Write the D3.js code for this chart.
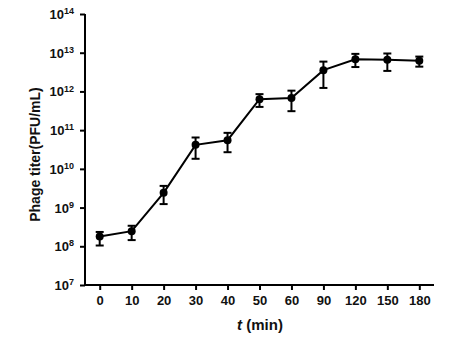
<!DOCTYPE html>
<html><head><meta charset="utf-8">
<script src="https://cdn.jsdelivr.net/npm/d3@7"></script>
<style>
html,body{margin:0;padding:0;background:#fff;}
svg{display:block;font-family:Arial,"Liberation Sans",sans-serif;}
</style></head>
<body>
<svg id="c" width="451" height="340"></svg>
<script>
const categories = ["0","10","20","30","40","50","60","90","120","150","180"];
const logTiter = [8.25, 8.39, 9.38, 10.62, 10.74, 11.80, 11.83, 12.55, 12.83, 12.82, 12.79];
const logErrHigh = [8.37, 8.53, 9.56, 10.81, 10.93, 11.93, 12.02, 12.77, 12.97, 12.98, 12.90];
const logErrLow = [8.02, 8.16, 9.09, 10.26, 10.43, 11.60, 11.49, 12.09, 12.63, 12.53, 12.64];
const yExponents = [7, 8, 9, 10, 11, 12, 13, 14];

(function(){
const svg = d3.select("#c");
const pL = 85, pR = 434, pT = 14, pB = 285;

const x = d3.scalePoint().domain(categories).range([pL, pR]).padding(0.46);
const y = d3.scaleLog().domain([1e7, 1e14]).range([pB, pT]);

const data = categories.map((c, i) => ({
  c, v: Math.pow(10, logTiter[i]), hi: Math.pow(10, logErrHigh[i]), lo: Math.pow(10, logErrLow[i])
}));

// Y axis
const yAxis = d3.axisLeft(y).tickValues(yExponents.map(e => Math.pow(10, e)))
  .tickSize(5).tickFormat("");
const gy = svg.append("g").attr("transform", `translate(${pL},0)`).call(yAxis);
gy.select(".domain").attr("stroke", "#000").attr("stroke-width", 2).attr("d", `M0,${pT}V${pB}`);
gy.selectAll(".tick line").attr("stroke", "#000").attr("stroke-width", 2);
gy.selectAll(".tick").each(function(d) {
  const e = Math.round(Math.log10(d));
  const t = d3.select(this).append("text").attr("x", -11).attr("dy", "0.35em")
    .attr("text-anchor", "end").attr("fill", "#111")
    .style("font-size", "13px").style("font-weight", "bold");
  t.append("tspan").text("10");
  t.append("tspan").attr("dy", "-0.55em").style("font-size", "9px").text(e);
});

// X axis
const xAxis = d3.axisBottom(x).tickSize(5).tickPadding(6);
const gx = svg.append("g").attr("transform", `translate(0,${pB})`).call(xAxis);
gx.select(".domain").attr("stroke", "#000").attr("stroke-width", 2).attr("d", `M${pL},0H${pR}`);
gx.selectAll(".tick line").attr("stroke", "#000").attr("stroke-width", 2);
gx.selectAll(".tick text").attr("fill", "#111").style("font-size", "13px").style("font-weight", "bold");

// Axis titles
svg.append("text").attr("x", 260).attr("y", 330).attr("text-anchor", "middle")
  .style("font-size", "15px").style("font-weight", "bold").attr("fill", "#111")
  .call(t => { t.append("tspan").style("font-style", "italic").text("t"); t.append("tspan").text(" (min)"); });
svg.append("text").attr("transform", `translate(40,${(pT+pB)/2+5}) rotate(-90)`)
  .attr("text-anchor", "middle").style("font-size", "14px").style("font-weight", "bold").attr("fill", "#111")
  .text("Phage titer(PFU/mL)");

// Line
svg.append("path").datum(data)
  .attr("d", d3.line().x(d => x(d.c)).y(d => y(d.v)))
  .attr("fill", "none").attr("stroke", "#000").attr("stroke-width", 2);

// Error bars
const eb = svg.append("g").selectAll("g").data(data).join("g");
eb.append("line").attr("x1", d => x(d.c)).attr("x2", d => x(d.c))
  .attr("y1", d => y(d.hi)).attr("y2", d => y(d.lo)).attr("stroke", "#000").attr("stroke-width", 2);
eb.append("line").attr("x1", d => x(d.c) - 4).attr("x2", d => x(d.c) + 4)
  .attr("y1", d => y(d.hi)).attr("y2", d => y(d.hi)).attr("stroke", "#000").attr("stroke-width", 2);
eb.append("line").attr("x1", d => x(d.c) - 4).attr("x2", d => x(d.c) + 4)
  .attr("y1", d => y(d.lo)).attr("y2", d => y(d.lo)).attr("stroke", "#000").attr("stroke-width", 2);

// Markers
svg.append("g").selectAll("circle").data(data).join("circle")
  .attr("cx", d => x(d.c)).attr("cy", d => y(d.v)).attr("r", 4).attr("fill", "#000");
})();
</script>
</body></html>
